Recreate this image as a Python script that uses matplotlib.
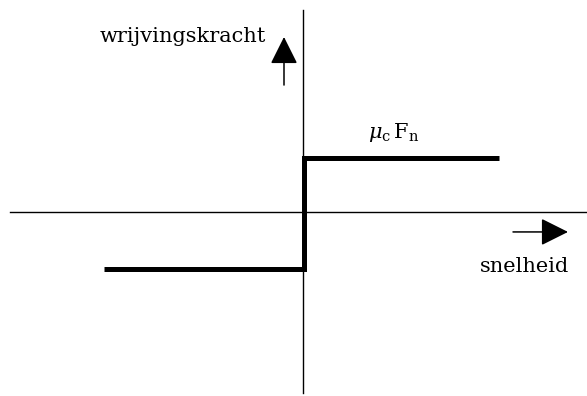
import matplotlib
matplotlib.use('Agg')
import matplotlib.pyplot as plt

# Coulomb friction: force vs velocity (arbitrary units)
velocity = [-1.99, 0.01, 0.01, 1.96]
friction = [-1.05, -1.05, 1.0, 1.0]

# axes extent (data units)
x_axis = [-2.93, 2.84]
y_axis = [-3.34, 3.75]

plt.rcParams['font.family'] = ['DejaVu Serif']
plt.rcParams['mathtext.fontset'] = 'dejavuserif'

fig = plt.figure(figsize=(5.87, 3.96), dpi=100)
ax = fig.add_axes([0, 0, 1, 1])
ax.set_xlim(-3.03, 2.84)
ax.set_ylim(-3.398, 3.935)
ax.axis('off')

# coordinate axes
ax.plot(x_axis, [0, 0], color='black', lw=1.0)
ax.plot([0, 0], y_axis, color='black', lw=1.0)

# friction characteristic
ax.plot(velocity, friction, color='black', lw=3.6, solid_joinstyle='miter', solid_capstyle='butt')

# arrows
arrow_style = '-|>,head_length=1.7,head_width=0.85'
ax.annotate('', xy=(-0.19, 3.25), xytext=(-0.19, 2.36),
            arrowprops=dict(arrowstyle=arrow_style, mutation_scale=10, color='black',
                            lw=1.1, shrinkA=0, shrinkB=0))
ax.annotate('', xy=(2.65, -0.36), xytext=(2.10, -0.36),
            arrowprops=dict(arrowstyle=arrow_style, mutation_scale=10, color='black',
                            lw=1.1, shrinkA=0, shrinkB=0))

# labels
ax.text(-1.205, 3.157, 'wrijvingskracht', fontsize=15, ha='center', va='baseline')
ax.text(2.215, -1.10, 'snelheid', fontsize=15, ha='center', va='baseline')
ax.text(0.65, 1.38, r'$\mu_{\mathrm{c}}\,\mathrm{F}_{\mathrm{n}}$', fontsize=15, ha='left', va='baseline')

fig.savefig('out.png', dpi=100)
